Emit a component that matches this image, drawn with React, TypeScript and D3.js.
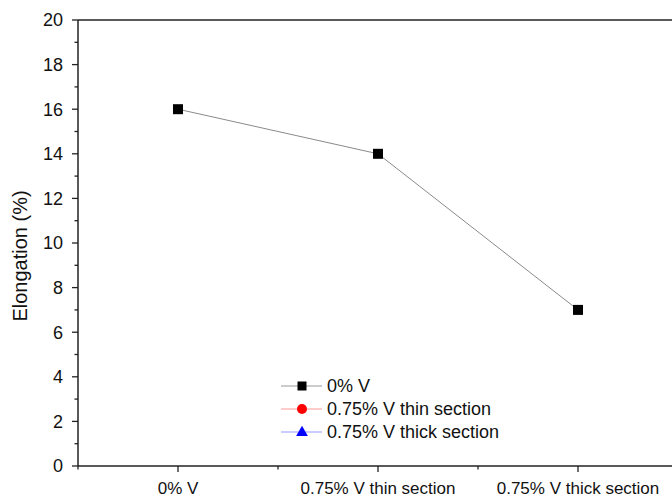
import React, { useEffect, useRef } from 'react';
import * as d3 from 'd3';

// categories and values
const categories = ['0% V', '0.75% V thin section', '0.75% V thick section'];
const elongation = [16, 14, 7];
const yTicks = [0, 2, 4, 6, 8, 10, 12, 14, 16, 18, 20];
const legendItems = [
  { label: '0% V', color: '#000000', line: '#999999', shape: 'square' },
  { label: '0.75% V thin section', color: '#ff0000', line: '#ff9999', shape: 'circle' },
  { label: '0.75% V thick section', color: '#0000ff', line: '#9999ff', shape: 'triangle' },
];

const App: React.FC = () => {
  const svgRef = useRef<SVGSVGElement>(null);

  useEffect(() => {
    const svg = d3.select(svgRef.current);
    svg.selectAll('*').remove();

    const width = 672;
    const height = 500;
    const margin = { top: 20, left: 78, bottom: 34 };
    const font = 'Liberation Sans, Arial, sans-serif';

    // x: category index, one step = 200px, axis starts half a step before first
    const x = d3.scaleLinear().domain([-0.5, 3]).range([margin.left, margin.left + 700]);
    const y = d3.scaleLinear().domain([0, 20]).range([height - margin.bottom, margin.top]);

    const axisColor = '#222';

    // top frame line
    svg
      .append('line')
      .attr('x1', margin.left)
      .attr('x2', width)
      .attr('y1', y(20))
      .attr('y2', y(20))
      .attr('stroke', axisColor)
      .attr('stroke-width', 1.5);

    // y axis
    const yAxis = svg.append('g').attr('transform', `translate(${margin.left},0)`);
    yAxis
      .append('line')
      .attr('x1', 0)
      .attr('x2', 0)
      .attr('y1', y(20))
      .attr('y2', y(0))
      .attr('stroke', axisColor)
      .attr('stroke-width', 1.5);
    d3.range(0, 21, 1).forEach((v) => {
      const major = v % 2 === 0;
      yAxis
        .append('line')
        .attr('x1', 0)
        .attr('x2', major ? -6 : -3.5)
        .attr('y1', y(v))
        .attr('y2', y(v))
        .attr('stroke', axisColor)
        .attr('stroke-width', 1.3);
    });
    yAxis
      .selectAll('text.tick')
      .data(yTicks)
      .join('text')
      .attr('x', -15)
      .attr('y', (d) => y(d))
      .attr('dy', '0.35em')
      .attr('text-anchor', 'end')
      .style('font-family', font)
      .style('font-size', '18px')
      .attr('fill', '#111')
      .text((d) => d);

    svg
      .append('text')
      .attr('transform', `translate(27, 256) rotate(-90)`)
      .attr('text-anchor', 'middle')
      .style('font-family', font)
      .style('font-size', '20px')
      .attr('fill', '#111')
      .text('Elongation (%)');

    // x axis
    const xAxis = svg.append('g').attr('transform', `translate(0,${y(0)})`);
    xAxis
      .append('line')
      .attr('x1', margin.left)
      .attr('x2', width)
      .attr('y1', 0)
      .attr('y2', 0)
      .attr('stroke', axisColor)
      .attr('stroke-width', 1.5);
    d3.range(-0.5, 3, 0.5).forEach((v) => {
      const major = Number.isInteger(v);
      xAxis
        .append('line')
        .attr('x1', x(v))
        .attr('x2', x(v))
        .attr('y1', 0)
        .attr('y2', major ? 6 : 3.5)
        .attr('stroke', axisColor)
        .attr('stroke-width', 1.3);
    });
    xAxis
      .selectAll('text.cat')
      .data(categories)
      .join('text')
      .attr('x', (_, i) => x(i))
      .attr('y', 28)
      .attr('text-anchor', 'middle')
      .style('font-family', font)
      .style('font-size', '17px')
      .attr('fill', '#111')
      .text((d) => d);

    // data line
    const line = d3
      .line<number>()
      .x((_, i) => x(i))
      .y((d) => y(d));
    svg
      .append('path')
      .datum(elongation)
      .attr('fill', 'none')
      .attr('stroke', '#8a8a8a')
      .attr('stroke-width', 1)
      .attr('d', line);

    svg
      .selectAll('rect.pt')
      .data(elongation)
      .join('rect')
      .attr('x', (_, i) => x(i) - 5)
      .attr('y', (d) => y(d) - 5)
      .attr('width', 10)
      .attr('height', 10)
      .attr('fill', '#000');

    // legend
    const legend = svg.append('g').attr('transform', 'translate(281, 386)');
    legendItems.forEach((item, i) => {
      const g = legend.append('g').attr('transform', `translate(0, ${i * 23})`);
      g.append('line')
        .attr('x1', 0)
        .attr('x2', 41)
        .attr('y1', 0)
        .attr('y2', 0)
        .attr('stroke', item.line)
        .attr('stroke-width', 1);
      if (item.shape === 'square') {
        g.append('rect').attr('x', 16.5).attr('y', -4.5).attr('width', 9).attr('height', 9).attr('fill', item.color);
      } else if (item.shape === 'circle') {
        g.append('circle').attr('cx', 21).attr('cy', 0).attr('r', 5).attr('fill', item.color);
      } else {
        g.append('path')
          .attr('d', d3.symbol(d3.symbolTriangle, 60)())
          .attr('transform', 'translate(21, 0.5)')
          .attr('fill', item.color);
      }
      g.append('text')
        .attr('x', 46)
        .attr('y', 0)
        .attr('dy', '0.35em')
        .style('font-family', font)
        .style('font-size', '18px')
        .attr('fill', '#111')
        .text(item.label);
    });
  }, []);

  return (
    <svg
      ref={svgRef}
      width={672}
      height={500}
      style={{ position: 'absolute', left: 0, top: 0, background: '#fff', overflow: 'hidden' }}
    />
  );
};

export default App;
